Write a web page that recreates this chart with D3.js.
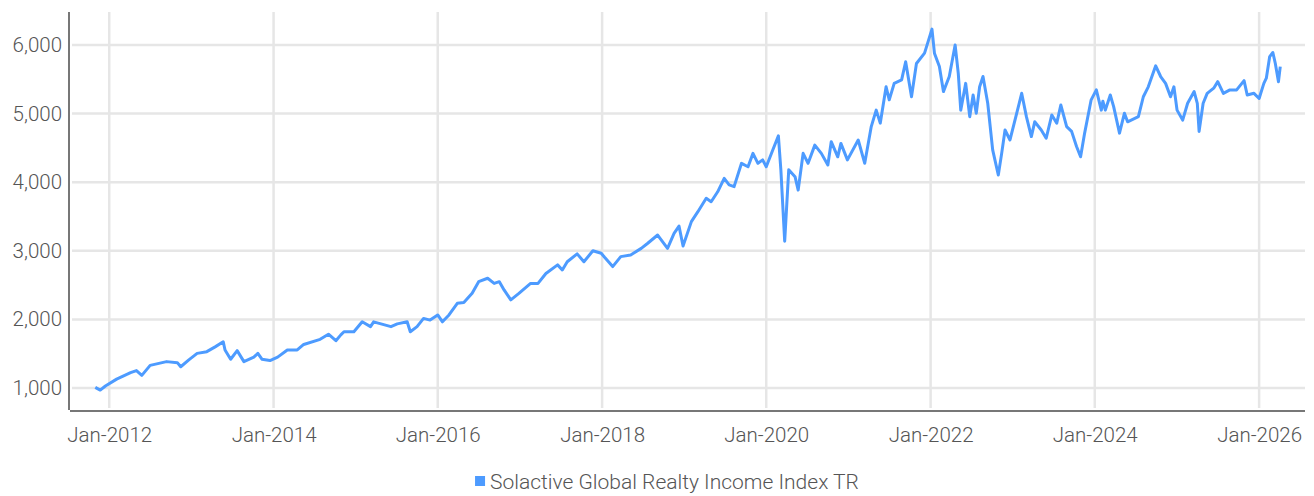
<!DOCTYPE html>
<meta charset="utf-8">
<style>
body { margin: 0; background: #fff; }
text { font-family: Roboto, "Open Sans", sans-serif; font-weight: 300; fill: #555; }
</style>
<script src="https://d3js.org/d3.v7.min.js"></script>
<div id="chart"></div>
<script>
// index level
var dates = ["2011-10-31","2011-11-22","2011-12-15","2012-02-03","2012-04-05","2012-05-01","2012-05-25","2012-07-01","2012-09-12","2012-10-30","2012-11-14","2012-12-20",
  "2013-01-26","2013-03-10","2013-04-16","2013-05-22","2013-05-30","2013-06-24","2013-07-23","2013-08-22","2013-10-05","2013-10-23","2013-11-10","2013-12-16",
  "2014-01-19","2014-03-03","2014-04-16","2014-05-15","2014-07-27","2014-09-02","2014-10-05","2014-10-27","2014-11-10","2014-12-24",
  "2015-01-30","2015-03-08","2015-03-22","2015-06-07","2015-07-05","2015-08-18","2015-09-01","2015-10-01","2015-10-30","2015-11-28",
  "2016-01-01","2016-01-22","2016-02-20","2016-03-28","2016-04-26","2016-06-02","2016-07-01","2016-08-10","2016-09-08","2016-10-01","2016-10-22","2016-11-21","2016-12-27",
  "2017-02-17","2017-03-22","2017-04-26","2017-06-17","2017-07-08","2017-07-30","2017-09-12","2017-10-12","2017-11-21","2017-12-28",
  "2018-01-12","2018-02-17","2018-03-25","2018-05-08","2018-06-24","2018-07-23","2018-09-05","2018-10-19","2018-11-17","2018-12-09","2018-12-27",
  "2019-02-02","2019-03-03","2019-04-09","2019-05-01","2019-05-30","2019-06-28","2019-07-20","2019-08-11","2019-09-13","2019-10-12","2019-11-03","2019-11-25","2019-12-16",
  "2020-01-01","2020-01-30","2020-02-24","2020-03-06","2020-03-23","2020-04-10","2020-05-08","2020-05-22","2020-06-13","2020-07-05","2020-08-04","2020-09-02","2020-10-01","2020-10-16","2020-11-14","2020-11-28","2020-12-27",
  "2021-02-13","2021-03-14","2021-04-12","2021-05-04","2021-05-22","2021-06-17","2021-07-01","2021-07-23","2021-08-25","2021-09-12","2021-10-08","2021-10-30","2021-12-05",
  "2022-01-07","2022-01-18","2022-02-09","2022-02-27","2022-03-25","2022-04-20","2022-05-04","2022-05-15","2022-06-06","2022-06-24","2022-07-09","2022-07-23","2022-08-07","2022-08-22","2022-09-12","2022-10-04","2022-10-29","2022-11-13","2022-11-28","2022-12-20",
  "2023-01-19","2023-02-10","2023-03-03","2023-03-25","2023-04-09","2023-05-08","2023-05-30","2023-06-24","2023-07-16","2023-08-03","2023-08-29","2023-09-20","2023-10-12","2023-10-30","2023-11-17","2023-12-16",
  "2024-01-08","2024-01-30","2024-02-06","2024-02-17","2024-03-10","2024-03-25","2024-04-20","2024-05-12","2024-05-26","2024-07-13","2024-08-04","2024-08-26","2024-09-28","2024-10-20","2024-11-11","2024-12-03","2024-12-18",
  "2025-01-01","2025-01-26","2025-02-17","2025-03-18","2025-04-01","2025-04-09","2025-04-27","2025-05-15","2025-06-13","2025-07-01","2025-07-26","2025-08-24","2025-09-23","2025-10-26","2025-11-09","2025-12-09",
  "2026-01-01","2026-01-22","2026-02-02","2026-02-17","2026-03-03","2026-03-14","2026-03-28","2026-04-05"];
var values = [1010,970,1030,1130,1225,1255,1185,1330,1385,1370,1310,1410,
  1505,1530,1600,1675,1555,1420,1545,1385,1450,1505,1420,1400,
  1450,1555,1555,1635,1710,1785,1690,1775,1820,1820,
  1965,1895,1965,1895,1935,1965,1820,1895,2015,1990,
  2065,1965,2065,2235,2245,2380,2550,2600,2525,2550,2430,2285,2380,
  2525,2525,2670,2795,2720,2840,2955,2840,3000,2965,
  2905,2770,2915,2940,3035,3110,3230,3035,3255,3360,3070,
  3425,3570,3765,3715,3860,4055,3960,3935,4275,4225,4420,4275,4325,
  4225,4470,4675,4180,3140,4180,4080,3885,4420,4275,4540,4420,4250,4590,4370,4565,4325,
  4615,4275,4810,5050,4860,5390,5200,5440,5490,5755,5245,5730,5880,
  6230,5880,5685,5320,5540,6000,5585,5050,5440,4955,5270,5005,5390,5540,5150,4470,4105,4420,4760,4615,
  5005,5295,4955,4665,4880,4760,4640,4980,4860,5125,4810,4740,4520,4370,4715,5200,
  5345,5050,5180,5050,5270,5100,4715,5005,4880,4955,5245,5390,5695,5540,5440,5245,5390,
  5050,4905,5150,5320,5150,4740,5150,5295,5370,5465,5295,5345,5345,5480,5270,5295,
  5220,5440,5515,5830,5890,5730,5465,5685];

var yTicks = [1000, 2000, 3000, 4000, 5000, 6000];
var xTicks = ["2012-01-01","2014-01-01","2016-01-01","2018-01-01","2020-01-01","2022-01-01","2024-01-01","2026-01-01"];
var seriesName = "Solactive Global Realty Income Index TR";

var W = 1314, H = 496;
var plotLeft = 71, plotRight = 1305, plotTop = 12, plotBottom = 410;
var parse = d3.timeParse("%Y-%m-%d");
var data = dates.map(function(d, i) { return {date: parse(d), value: values[i]}; });

var svg = d3.select("#chart").append("svg")
  .attr("width", W).attr("height", H);

var x = d3.scaleTime()
  .domain([parse("2011-07-15"), parse("2026-07-24")])
  .range([plotLeft, plotRight]);
var y = d3.scaleLinear()
  .domain([680, 6480])
  .range([plotBottom, plotTop]);

// grid
svg.append("g").selectAll("line").data(yTicks).enter().append("line")
  .attr("x1", plotLeft + 1).attr("x2", plotRight)
  .attr("y1", function(d) { return y(d); }).attr("y2", function(d) { return y(d); })
  .attr("stroke", "#e6e6e6").attr("stroke-width", 2.5);
svg.append("g").selectAll("line").data(xTicks).enter().append("line")
  .attr("x1", function(d) { return x(parse(d)); }).attr("x2", function(d) { return x(parse(d)); })
  .attr("y1", plotTop).attr("y2", plotBottom - 2)
  .attr("stroke", "#e6e6e6").attr("stroke-width", 2.5);

// axes
var yAxis = svg.append("g")
  .attr("transform", "translate(" + (plotLeft - 2) + ",0)")
  .call(d3.axisLeft(y).tickValues(yTicks).tickSize(0).tickPadding(7).tickFormat(d3.format(",")));
var xAxis = svg.append("g")
  .attr("transform", "translate(0," + (plotBottom + 1) + ")")
  .call(d3.axisBottom(x).tickValues(xTicks.map(parse)).tickSize(0).tickPadding(16).tickFormat(d3.timeFormat("%b-%Y")));
yAxis.select(".domain").attr("d", "M0," + plotTop + "V" + plotBottom).attr("stroke", "#777").attr("stroke-width", 2);
xAxis.select(".domain").attr("d", "M" + (plotLeft - 1) + ",0H" + plotRight).attr("stroke", "#777").attr("stroke-width", 2);
svg.selectAll(".tick text").style("font-size", "20.5px").attr("fill", "#555");

// line
svg.append("path")
  .datum(data)
  .attr("fill", "none")
  .attr("stroke", "#4d9bff")
  .attr("stroke-width", 3)
  .attr("stroke-linejoin", "round")
  .attr("d", d3.line().x(function(d) { return x(d.date); }).y(function(d) { return y(d.value); }));

// legend
var lg = svg.append("g");
var lt = lg.append("text").attr("x", 15).attr("y", 7.5).style("font-size", "21px").text(seriesName);
var tw = lt.node().getComputedTextLength();
lg.attr("transform", "translate(" + (667 - (tw + 15) / 2) + ",481)");
lg.append("rect").attr("x", 0).attr("y", -5).attr("width", 10).attr("height", 10).attr("fill", "#4d9bff");
</script>
